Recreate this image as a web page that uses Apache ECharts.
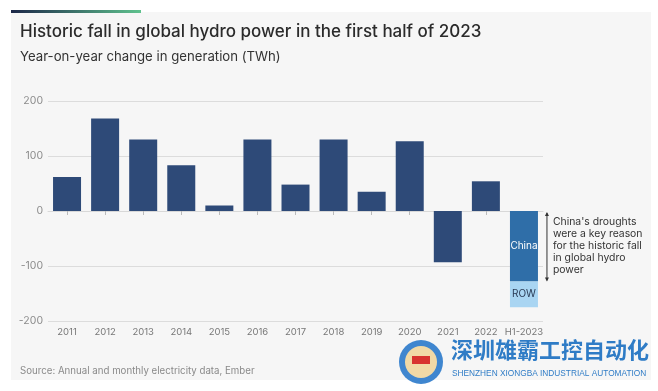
<!DOCTYPE html>
<html><head><meta charset="utf-8">
<script src="https://cdn.jsdelivr.net/npm/echarts@6/dist/echarts.min.js"></script>
<style>html,body{margin:0;padding:0;background:#fff}#c{width:658px;height:391px}</style>
</head><body><div id="c"></div>
<script>
const categories = ['2011','2012','2013','2014','2015','2016','2017','2018','2019','2020','2021','2022','H1-2023'];
const annualChange = [62, 168, 130, 83, 10, 130, 48, 130, 35, 127, -93, 54, null];
const chinaChange = [null, null, null, null, null, null, null, null, null, null, null, null, -128];
const rowChange = [null, null, null, null, null, null, null, null, null, null, null, null, -47];
const yTicks = {min: -200, max: 200, interval: 100};
const noteLines = ["China's droughts", "were a key reason", "for the historic fall", "in global hydro", "power"];

const FONT = 'Inter, "Noto Sans", sans-serif';
const chart = echarts.init(document.getElementById('c'), null, {renderer: 'canvas'});
const baseGraphics = [
  {type: 'rect', shape: {x: 11, y: 12, width: 640, height: 368}, style: {fill: '#f6f6f6'}, z: -10},
  {type: 'rect', shape: {x: 11, y: 10, width: 130, height: 3},
   style: {fill: new echarts.graphic.LinearGradient(0, 0, 1, 0, [{offset: 0, color: '#1c2748'}, {offset: 1, color: '#5fc28e'}])}},
  {type: 'text', left: 20, top: 23, style: {text: 'Historic fall in global hydro power in the first half of 2023', font: '500 17px ' + FONT, fill: '#2b2b2b'}},
  {type: 'text', left: 20, top: 51, style: {text: 'Year-on-year change in generation (TWh)', font: '13.2px ' + FONT, fill: '#333'}},
  {type: 'text', left: 20, top: 366, style: {text: 'Source: Annual and monthly electricity data, Ember', font: '9.7px ' + FONT, fill: '#8a8a8a'}},
  // watermark
  {type: 'circle', shape: {cx: 421, cy: 362, r: 22}, style: {fill: '#3f86cf'}},
  {type: 'circle', shape: {cx: 421, cy: 362, r: 16}, style: {fill: '#f1d9a6'}},
  {type: 'rect', shape: {x: 412, y: 356, width: 18, height: 8}, style: {fill: '#d8332f'}},
  {type: 'text', left: 451, top: 339, style: {text: '深圳雄霸工控自动化', font: 'bold 22px "Noto Sans CJK SC", sans-serif', fill: '#2f7cc6'}},
  {type: 'text', left: 452, top: 370, style: {text: 'SHENZHEN XIONGBA INDUSTRIAL AUTOMATION', font: '8.3px "Liberation Sans", sans-serif', fill: '#2f7cc6'}}
];
const common = {type: 'bar', stack: 'total', barWidth: 28};
chart.setOption({
  animation: false,
  backgroundColor: '#ffffff',
  grid: {left: 48, right: 115, top: 101, bottom: 70},
  xAxis: {
    type: 'category', data: categories,
    axisLine: {show: true, lineStyle: {color: '#d8d8d8'}},
    axisTick: {show: true, alignWithLabel: true, length: 4, lineStyle: {color: '#bbb'}},
    axisLabel: {interval: 0, color: '#777', fontSize: 9.5, fontFamily: FONT, margin: 6}
  },
  yAxis: {
    type: 'value', min: yTicks.min, max: yTicks.max, interval: yTicks.interval,
    axisLine: {show: false}, axisTick: {show: false},
    axisLabel: {color: '#8c8c8c', fontSize: 10.5, fontFamily: FONT, margin: 5},
    splitLine: {lineStyle: {color: '#dcdcdc', width: 1}}
  },
  series: [
    Object.assign({}, common, {name: 'Annual', data: annualChange, itemStyle: {color: '#2e4a78'}}),
    Object.assign({}, common, {name: 'China', data: chinaChange, itemStyle: {color: '#2f6ea8'},
      label: {show: true, position: 'inside', formatter: 'China', color: '#fff', fontSize: 10, fontFamily: FONT}}),
    Object.assign({}, common, {name: 'ROW', data: rowChange, itemStyle: {color: '#a9d5f2'},
      label: {show: true, position: 'inside', formatter: 'ROW', color: '#2a3b55', fontSize: 10, fontFamily: FONT}})
  ],
  graphic: baseGraphics
});

// annotation placed from axis scale
const last = categories[categories.length - 1];
const pTop = chart.convertToPixel({gridIndex: 0}, [last, 0]);
const pBot = chart.convertToPixel({gridIndex: 0}, [last, chinaChange[chinaChange.length - 1]]);
const ax = pTop[0] + 23;
const note = [
  {type: 'line', shape: {x1: ax, y1: pTop[1] + 2, x2: ax, y2: pBot[1] - 1}, style: {stroke: '#333', lineWidth: 1}},
  {type: 'polygon', shape: {points: [[ax - 2, pTop[1] + 5], [ax + 2, pTop[1] + 5], [ax, pTop[1] + 1]]}, style: {fill: '#333'}},
  {type: 'polygon', shape: {points: [[ax - 2, pBot[1] - 4], [ax + 2, pBot[1] - 4], [ax, pBot[1]]]}, style: {fill: '#333'}}
];
noteLines.forEach((t, i) => {
  note.push({type: 'text', left: ax + 6, top: pTop[1] + 6 + i * 12, style: {text: t, font: '10.4px ' + FONT, fill: '#333'}});
});
chart.setOption({graphic: baseGraphics.concat(note)}, {replaceMerge: ['graphic']});
</script></body></html>
